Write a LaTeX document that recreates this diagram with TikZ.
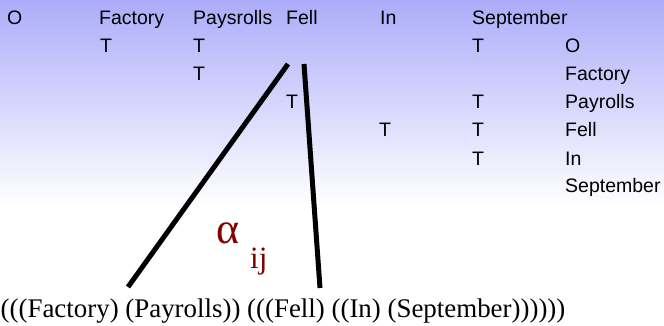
\documentclass[tikz,border=0pt]{standalone}
\usepackage{fontspec}
\setmainfont{Liberation Serif}
\setsansfont{Liberation Sans}
\usetikzlibrary{positioning}
\definecolor{lavender}{RGB}{172,172,250}
\definecolor{alphared}{RGB}{128,0,0}

\tikzset{
  cell/.style={anchor=base west,inner sep=0pt,font=\sffamily\fontsize{19.5}{20}\selectfont},
  link/.style={line width=5pt},
  greek/.style={anchor=base west,inner sep=0pt,text=alphared},
}

\begin{document}
\begin{tikzpicture}[x=1pt,y=-1pt]
  \useasboundingbox (0,0) rectangle (664,326);
  % Background fade
  \shade[top color=lavender,bottom color=white] (0,0) rectangle (664,205);
  % Header row
  \node[cell] (hO) at (7,25) {O};
  \node[cell] (hFactory) at (99,25) {Factory};
  \node[cell] (hPayrolls) at (193,25) {Paysrolls};
  \node[cell] (hFell) at (286,25) {Fell};
  \node[cell] (hIn) at (380,25) {In};
  \node[cell] (hSeptember) at (472,25) {September};
  % Right column
  \foreach \w [count=\i] in {O,Factory,Payrolls,Fell,In,September}{
    \node[cell,name=r\i] at (565,25+28*\i) {\w};
  }
  % Marks
  \foreach \x/\y [count=\i] in {100/53,193/53,472/53,193/81,286/109,472/109,379/137,472/137,472/165}{
    \node[cell,name=t\i] at (\x,\y) {T};
  }
  % Bracketed sentence
  \node[anchor=base west,inner sep=0pt,font=\fontsize{26.9}{28}\selectfont] (bracket)
    at (0.5,317) {(((Factory) (Payrolls)) (((Fell) ((In) (September))))))};
  % Attachment lines
  \coordinate (leftTop) at (288,64);
  \coordinate (leftFoot) at (128,287);
  \coordinate (rightTop) at (304,64);
  \coordinate (rightFoot) at (320,288);
  \draw[link] (leftTop) -- (leftFoot);
  \draw[link] (rightTop) -- (rightFoot);
  % Weight label
  \node[greek,font=\fontsize{44}{44}\selectfont] (alpha) at (216,243) {α};
  \node[greek,font=\fontsize{31}{31}\selectfont] (ij) at (250,268) {ij};
\end{tikzpicture}
\end{document}
